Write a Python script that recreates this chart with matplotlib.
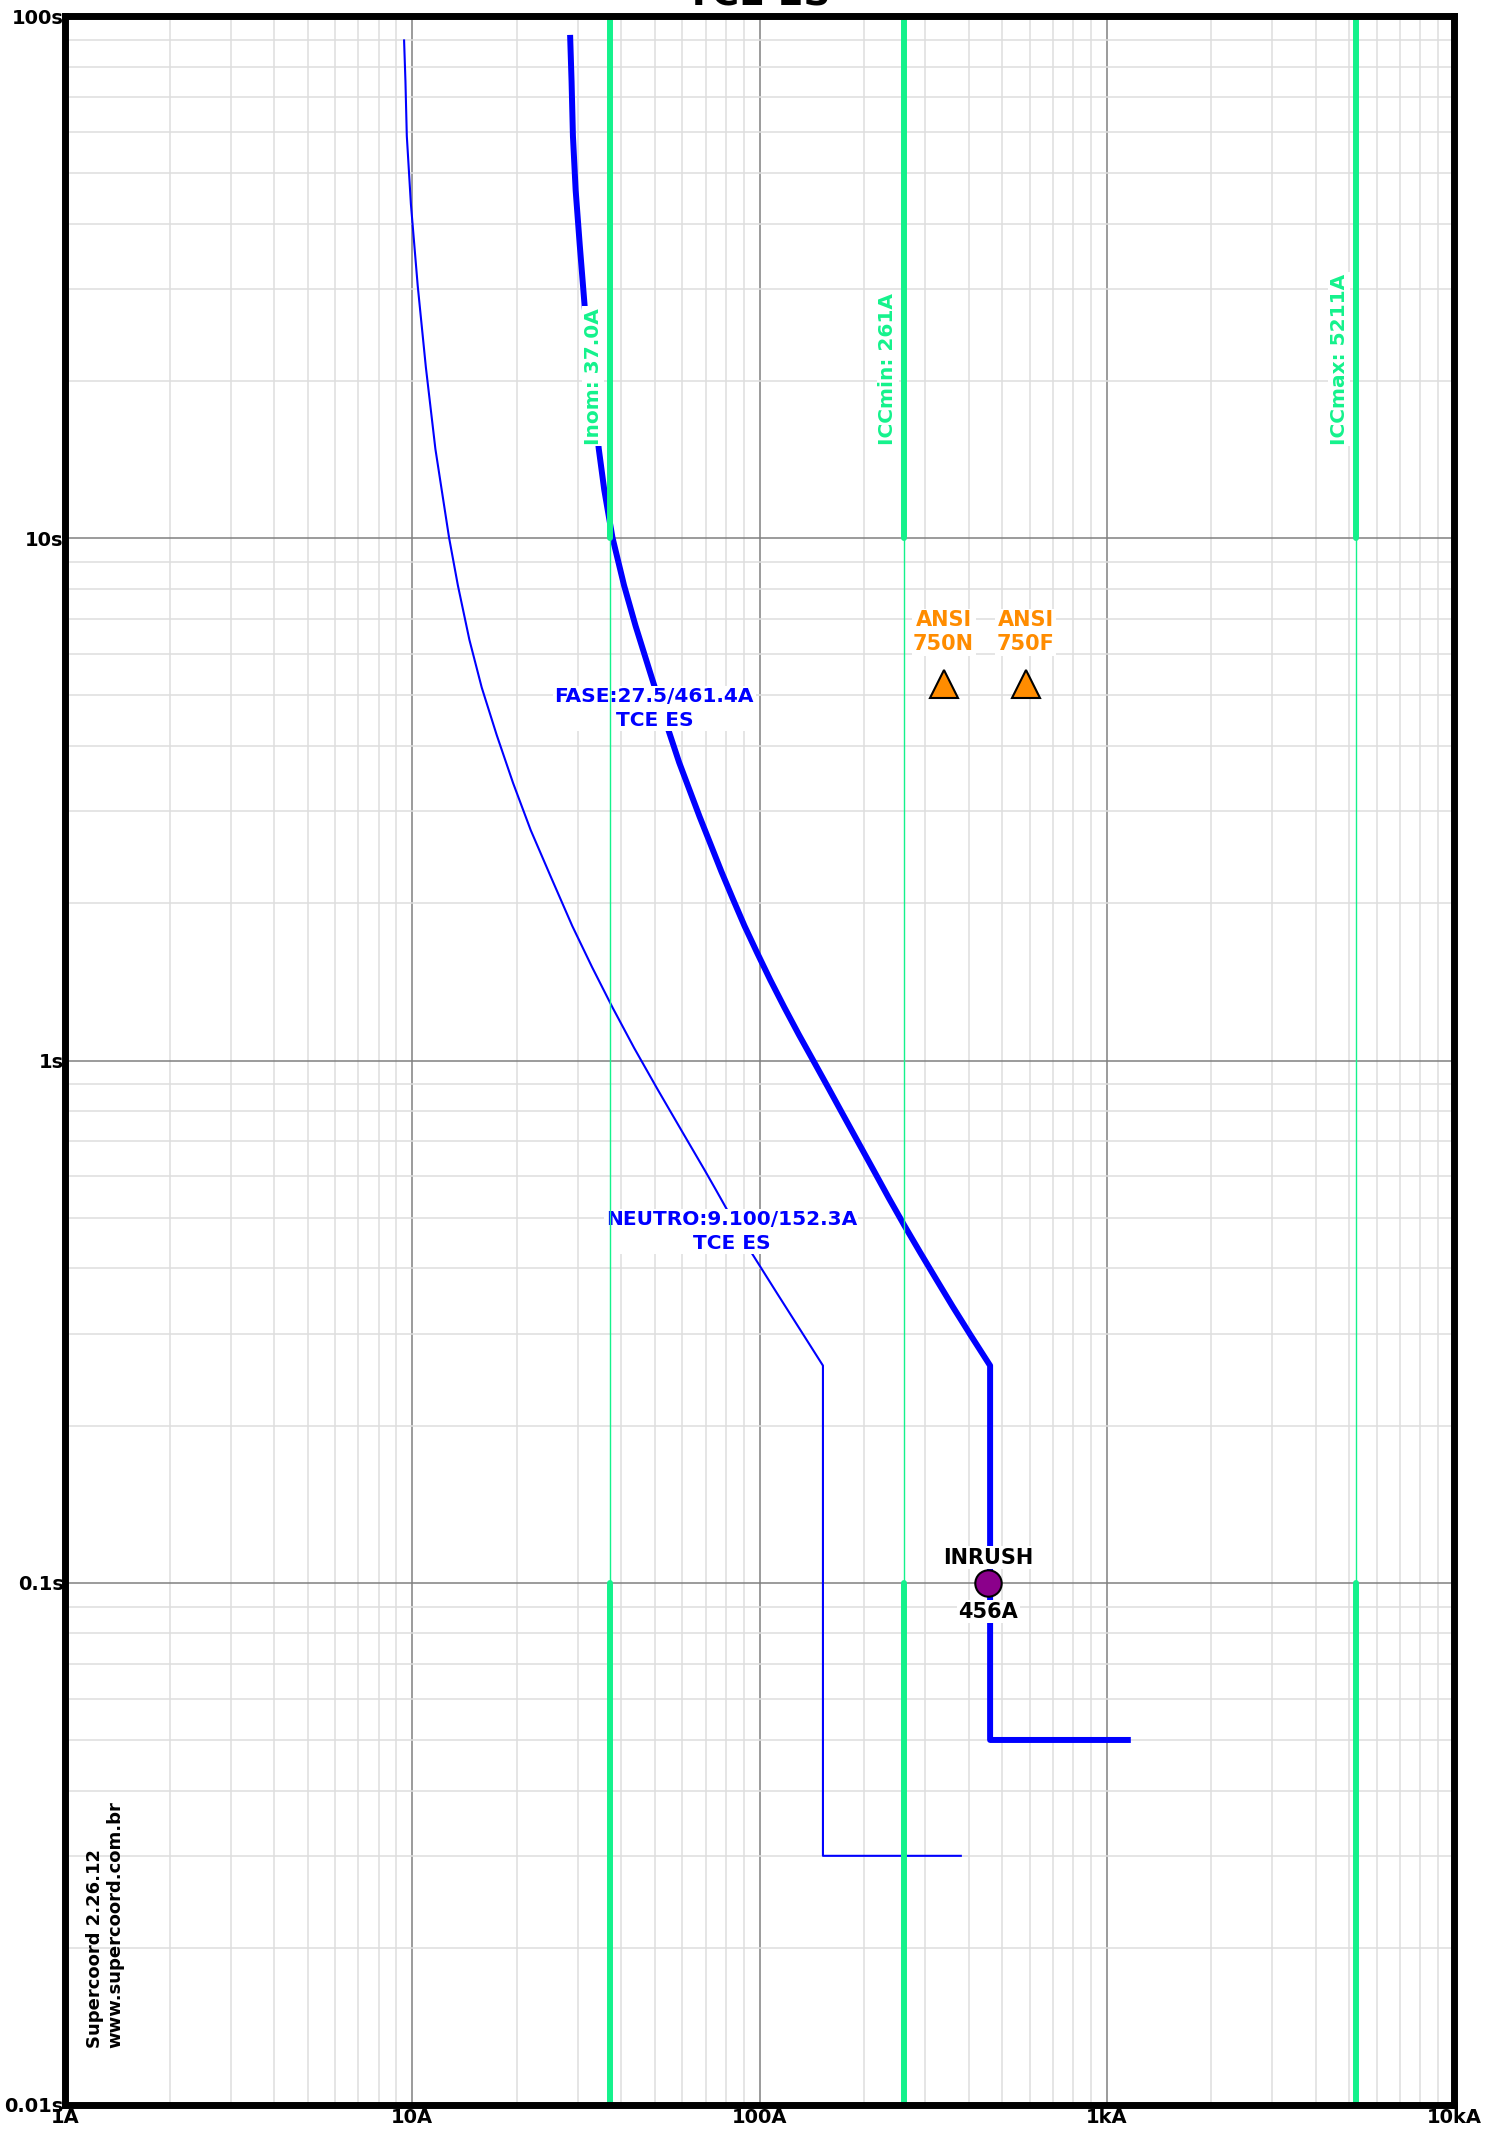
import matplotlib
matplotlib.use("Agg")
import matplotlib.pyplot as plt
from matplotlib.ticker import LogLocator, NullFormatter

plt.rcParams['font.family'] = ['DejaVu Sans']

# curves: current (A), time (s)
fase_i = [28.50, 28.76, 29.02, 29.55, 30.36, 31.48, 34.45, 35.72, 37.72, 40.72,
          43.98, 48.56, 53.63, 58.71, 67.22, 72.25, 77.67, 83.71, 90.54, 98.48,
          107.5, 117.9, 129.9, 143.5, 158.5, 175.0, 193.4, 213.5, 235.8, 261.1,
          290.2, 323.4, 360.6, 403.9, 461.4, 461.4, 1150.0]
fase_t = [90.8, 74.97, 58.96, 46.38, 36.47, 27.01, 14.82, 12.38, 10.03, 8.13,
          6.79, 5.50, 4.46, 3.72, 2.93, 2.597, 2.30, 2.043, 1.81, 1.607,
          1.425, 1.264, 1.12, 0.994, 0.882, 0.782, 0.693, 0.615, 0.545, 0.4836,
          0.429, 0.3804, 0.3374, 0.2991, 0.2605, 0.050, 0.050]
neutro_i = [9.473, 9.559, 9.645, 9.910, 10.368, 10.945, 11.659, 12.764, 13.53,
            14.608, 15.849, 17.506, 19.51, 21.94, 25.12, 28.89, 32.94, 37.72,
            43.58, 50.80, 59.51, 69.68, 74.91, 81.22, 94.73, 112.4, 133.5,
            152.3, 152.3, 380.0]
neutro_t = [89.8, 74.97, 58.96, 43.67, 30.46, 21.25, 14.82, 10.03, 8.13,
            6.39, 5.18, 4.20, 3.40, 2.76, 2.24, 1.81, 1.51, 1.264,
            1.056, 0.882, 0.736, 0.615, 0.5652, 0.5136, 0.429, 0.3581, 0.2991,
            0.2605, 0.030, 0.030]

# vertical limit lines
lim_labels = ['Inom: 37.0A', 'ICCmin: 261A', 'ICCmax: 5211A']
lim_vals = [37.0, 261.0, 5211.0]

# ANSI points
ansi_labels = ['ANSI\n750N', 'ANSI\n750F']
ansi_i = [339.0, 584.0]
ansi_t = [5.27, 5.27]

# inrush point
inrush_i = 456.0
inrush_t = 0.1

x_ticks = [1, 10, 100, 1000, 10000]
x_ticklabels = ['1A', '10A', '100A', '1kA', '10kA']
y_ticks = [0.01, 0.1, 1, 10, 100]
y_ticklabels = ['0.01s', '0.1s', '1s', '10s', '100s']

green = '#14f28c'
blue = '#0000ff'
orange = '#ff8c00'
fs = 14.5
white_box = dict(facecolor='white', edgecolor='none', pad=1)

W, H = 1499, 2134
fig = plt.figure(figsize=(W / 100, H / 100), dpi=100)
ax = fig.add_axes([65 / W, 1 - 2105 / H, 1389 / W, 2089 / H])
ax.set_xscale('log')
ax.set_yscale('log')
ax.set_xlim(1, 10000)
ax.set_ylim(0.01, 100)

# grid
ax.xaxis.set_minor_locator(LogLocator(base=10, subs=range(2, 10)))
ax.yaxis.set_minor_locator(LogLocator(base=10, subs=range(2, 10)))
ax.xaxis.set_minor_formatter(NullFormatter())
ax.yaxis.set_minor_formatter(NullFormatter())
ax.grid(which='minor', color='#dedede', lw=1.1)
ax.grid(which='major', color='#808080', lw=1.1)
ax.set_axisbelow(True)

ax.set_xticks(x_ticks)
ax.set_xticklabels(x_ticklabels, fontsize=14, fontweight='bold')
ax.set_yticks(y_ticks)
ax.set_yticklabels(y_ticklabels, fontsize=14, fontweight='bold')
ax.tick_params(which='both', length=0)
ax.tick_params(axis='x', pad=2)
ax.tick_params(axis='y', pad=1)

for s in ax.spines.values():
    s.set_linewidth(5)
    s.set_zorder(10)

# limit lines: thick above 10s and below 0.1s, thin between
for lab, v in zip(lim_labels, lim_vals):
    ax.plot([v, v], [10, 100], color=green, lw=4.3, solid_capstyle='round', zorder=6.5)
    ax.plot([v, v], [0.1, 10], color=green, lw=1.0, zorder=6.5)
    ax.plot([v, v], [0.01, 0.1], color=green, lw=4.3, solid_capstyle='round', zorder=6.5)
    ax.annotate(lab, xy=(v, 15.1), xytext=(-5, 0), textcoords='offset points',
                rotation=90, ha='right', va='bottom', color=green,
                fontsize=fs, fontweight='bold', zorder=6, bbox=white_box)

# protection curves
ax.plot(neutro_i, neutro_t, color=blue, lw=1.5, zorder=4)
ax.plot(fase_i, fase_t, color=blue, lw=4.3, zorder=4)

ax.text(49.8, 4.72, 'FASE:27.5/461.4A\nTCE ES', color=blue, fontsize=fs,
        fontweight='bold', ha='center', va='center', linespacing=1.3, zorder=6,
        bbox=white_box)
ax.text(83.0, 0.470, 'NEUTRO:9.100/152.3A\nTCE ES', color=blue, fontsize=fs,
        fontweight='bold', ha='center', va='center', linespacing=1.3, zorder=6,
        bbox=white_box)

# ANSI markers
ax.plot(ansi_i, ansi_t, ls='none', marker='^', ms=20, mfc=orange, mec='black',
        mew=1.5, zorder=7)
for lab, xi, ti in zip(ansi_labels, ansi_i, ansi_t):
    ax.annotate(lab, xy=(xi, ti), xytext=(0, 37), textcoords='offset points',
                ha='center', va='center', color=orange, fontsize=15,
                fontweight='bold', linespacing=1.25, zorder=6, bbox=white_box)

# inrush
ax.annotate('INRUSH', xy=(inrush_i, inrush_t), xytext=(0, 18), textcoords='offset points',
            ha='center', va='center', fontsize=15, fontweight='bold', zorder=6,
            bbox=white_box)
ax.annotate('456A', xy=(inrush_i, inrush_t), xytext=(0, -21), textcoords='offset points',
            ha='center', va='center', fontsize=15, fontweight='bold', zorder=6,
            bbox=white_box)
ax.plot([inrush_i], [inrush_t], ls='none', marker='o', ms=19, mfc='#8b008b',
        mec='black', mew=1.5, zorder=7)

# software stamp
ax.text(0.0288, 0.0273, 'Supercoord 2.26.12\nwww.supercoord.com.br', transform=ax.transAxes,
        rotation=90, ha='center', va='bottom', multialignment='left',
        fontsize=13, fontweight='bold', zorder=6)

# title (partly outside the image, as in the original)
fig.text(758 / W, 1 - 5 / H, 'TCE ES', ha='center', va='baseline',
         fontsize=27, fontweight='bold')

fig.savefig('out.png', dpi=100)
